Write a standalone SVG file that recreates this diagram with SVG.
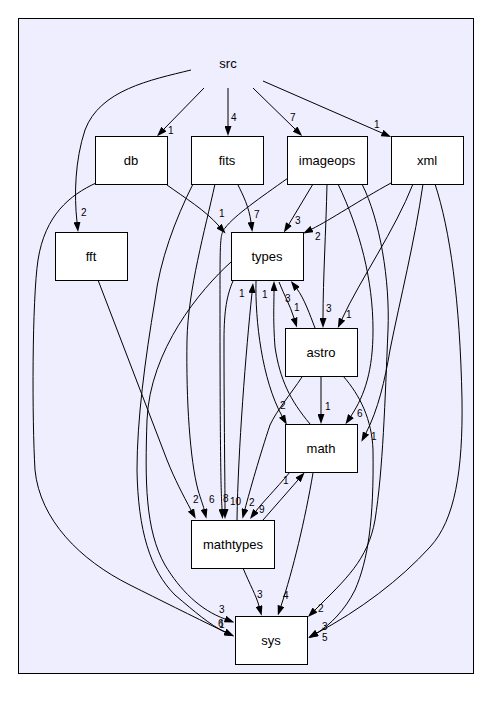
<svg xmlns="http://www.w3.org/2000/svg" width="492" height="703" viewBox="0 0 492 703">
<defs>
<marker id="ah" viewBox="0 0 10 7" refX="0" refY="3.5" markerWidth="10" markerHeight="7" markerUnits="userSpaceOnUse" orient="auto">
<path d="M0,0 L10,3.5 L0,7 z" fill="#000"/>
</marker>
<style>
.n rect{fill:#fff;stroke:#000;stroke-width:1}
.n text{font-family:"Liberation Sans",Arial,sans-serif;font-size:13px;text-anchor:middle;fill:#000}
#edges path{fill:none;stroke:#000;stroke-width:1;marker-end:url(#ah)}
#labels text{font-family:"Liberation Sans",Arial,sans-serif;font-size:10px;fill:#000}
</style>
</defs>
<rect x="18.5" y="18.5" width="455" height="655" fill="#eeeeff" stroke="#000"/>
<text x="228" y="68" font-family="Liberation Sans, Arial, sans-serif" font-size="13" text-anchor="middle">src</text>
<g id="edges">
<path d="M204,88 L164,129"/>
<path d="M228,88 L228,126"/>
<path d="M253,88 L295,129"/>
<path d="M263,81 L382,133"/>
<path d="M191,70 C150,80 100,90 85,130 C75,160 74,195 77,222"/>
<path d="M167,185 C185,198 205,210 219,226"/>
<path d="M96,183 C70,195 45,215 38,260 C32,300 32,420 35,470 C40,520 80,560 130,585 C160,600 190,615 225,632"/>
<path d="M231,262 C200,290 150,350 147,420 C145,480 145,530 165,565 C180,590 200,610 225,619"/>
<path d="M193,184 C175,220 160,260 155,300 C145,360 137,420 137,470 C138,530 150,570 175,595 C195,612 210,625 225,632"/>
<path d="M238,185 C243,195 249,207 251,222"/>
<path d="M215,184 C205,230 188,290 187,340 C186,400 190,460 198,490 C201,500 203,505 204,509"/>
<path d="M98,280 L167,460 C175,480 183,495 191,510"/>
<path d="M313,184 L289,224"/>
<path d="M327,184 C326,230 323,280 323,318"/>
<path d="M288,178 C260,198 235,215 225,228 C220,234 220,240 220,300 C220,460 221,490 222,509"/>
<path d="M233,281 C227,295 224,310 224,340 C224,420 225,480 225,509"/>
<path d="M237,520 C238,450 246,350 252,293"/>
<path d="M310,424 C290,400 280,380 275,347 C273,320 274,305 274,291"/>
<path d="M256,281 C255,320 262,380 282,416"/>
<path d="M279,282 C284,295 290,305 294,318"/>
<path d="M315,328 C310,315 304,298 297,289"/>
<path d="M391,183 C360,200 330,220 312,229"/>
<path d="M413,184 C395,230 360,280 342,319"/>
<path d="M423,184 C415,240 400,300 390,350 C385,380 378,410 366,433"/>
<path d="M435,184 C450,230 460,300 462,400 C463,470 455,520 430,547 C400,580 360,610 317,633"/>
<path d="M338,184 C360,230 373,280 373,330 C373,370 365,395 351,416"/>
<path d="M362,184 C380,220 390,280 388,330 C385,400 383,470 375,520 C368,560 345,580 315,610"/>
<path d="M321,376 L321,414"/>
<path d="M302,377 C290,395 277,410 270,425 C260,455 250,490 245,509"/>
<path d="M343,376 C360,395 372,420 373,450 C374,520 368,560 355,590 C345,610 330,625 317,633"/>
<path d="M290,472 C275,490 262,503 256,511"/>
<path d="M263,520 L298,480"/>
<path d="M313,473 C305,520 293,570 281,606"/>
<path d="M243,568 C250,585 256,595 259,606"/>
</g>
<g id="labels">
<text x="168" y="134">1</text>
<text x="231" y="121">4</text>
<text x="290" y="121">7</text>
<text x="374" y="128">1</text>
<text x="81" y="216">2</text>
<text x="219" y="217">1</text>
<text x="254" y="218">7</text>
<text x="295" y="224">3</text>
<text x="315" y="240">2</text>
<text x="326" y="312">3</text>
<text x="346" y="318">1</text>
<text x="239" y="297">1</text>
<text x="262" y="298">1</text>
<text x="285" y="302">3</text>
<text x="294" y="311">1</text>
<text x="280" y="409">2</text>
<text x="325" y="410">1</text>
<text x="357" y="417">6</text>
<text x="371" y="440">1</text>
<text x="193" y="503">2</text>
<text x="209" y="503">6</text>
<text x="223" y="502">8</text>
<text x="230" y="505">10</text>
<text x="249" y="506">2</text>
<text x="259" y="513">9</text>
<text x="283" y="484">1</text>
<text x="219" y="613">3</text>
<text x="218" y="627">6</text>
<text x="219" y="628">1</text>
<text x="257" y="598">3</text>
<text x="283" y="599">4</text>
<text x="318" y="612">2</text>
<text x="322" y="630">3</text>
<text x="322" y="641">5</text>
</g>
<g id="db" class="n"><rect x="95.5" y="136.5" width="72" height="48"/><text x="131" y="165">db</text></g>
<g id="fits" class="n"><rect x="191.5" y="136.5" width="72" height="48"/><text x="227" y="165">fits</text></g>
<g id="imageops" class="n"><rect x="287.5" y="136.5" width="80" height="48"/><text x="327" y="165">imageops</text></g>
<g id="xml" class="n"><rect x="391.5" y="136.5" width="72" height="48"/><text x="427" y="165">xml</text></g>
<g id="fft" class="n"><rect x="55.5" y="232.5" width="72" height="48"/><text x="91" y="261">fft</text></g>
<g id="types" class="n"><rect x="231.5" y="232.5" width="72" height="48"/><text x="267" y="261">types</text></g>
<g id="astro" class="n"><rect x="285.5" y="328.5" width="72" height="48"/><text x="321" y="357">astro</text></g>
<g id="math" class="n"><rect x="285.5" y="424.5" width="72" height="48"/><text x="321" y="453">math</text></g>
<g id="mathtypes" class="n"><rect x="191.5" y="520.5" width="83" height="48"/><text x="233" y="549">mathtypes</text></g>
<g id="sys" class="n"><rect x="235.5" y="616.5" width="72" height="48"/><text x="271" y="645">sys</text></g>
</svg>
